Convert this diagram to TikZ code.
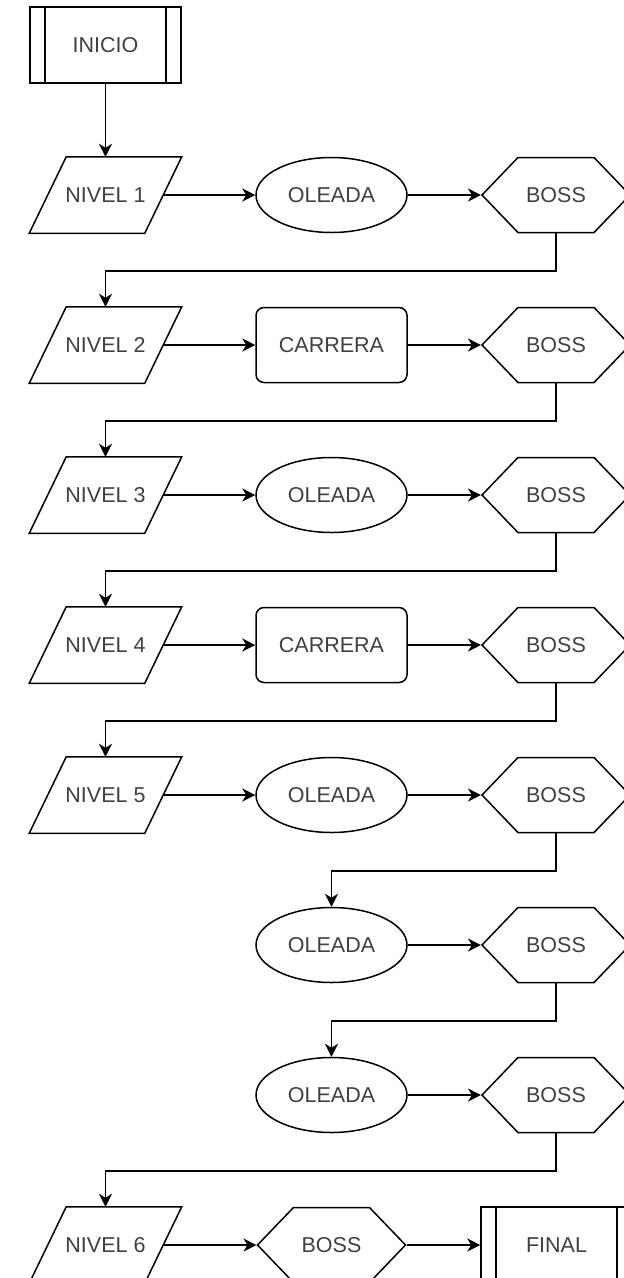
\documentclass[tikz,border=0pt]{standalone}
\usepackage{fontspec}
\setmainfont{Liberation Sans}
\usepackage{tikz}
\usetikzlibrary{arrows.meta,positioning,calc,shapes.geometric,shapes.symbols}
\definecolor{txt}{HTML}{404040}

\begin{document}
\begin{tikzpicture}[x=1pt, y=-1pt,
  base/.style={draw, line width=1.5pt, inner sep=1pt, text=txt, font=\fontsize{21.5}{24}\selectfont},
  lvl/.style={base, draw=none, minimum width=151, minimum height=75,
    append after command={\pgfextra{\draw[line width=1.5pt] ([xshift=37pt]\tikzlastnode.north west) -- (\tikzlastnode.north east)
      -- ([xshift=-37pt]\tikzlastnode.south east) -- (\tikzlastnode.south west) -- cycle;}}},
  wave/.style={base, ellipse, minimum width=151, minimum height=75},
  race/.style={base, rounded corners=8pt, minimum width=151, minimum height=75},
  boss/.style={base, signal, signal to=west and east, signal pointer angle=92.4, minimum width=148, minimum height=75},
  term/.style={base, minimum width=151, minimum height=76,
    path picture={\draw[line width=1.5pt] ([xshift=15pt]path picture bounding box.north west) -- ([xshift=15pt]path picture bounding box.south west);
                  \draw[line width=1.5pt] ([xshift=-15pt]path picture bounding box.north east) -- ([xshift=-15pt]path picture bounding box.south east);}},
  arr/.style={-{Stealth[length=13pt, width=13pt, inset=4pt]}, line width=1.5pt}]
  \useasboundingbox (0,0) rectangle (624,1278);
  \node[term] (inicio) at (105.5,45) {INICIO};
  % row 1
  \node[lvl] (n1) at (105.5,195) {NIVEL 1};
  \node[wave] (o1) at (331.5,195) {OLEADA};
  \node[boss] (b1) at (556,195) {BOSS};
  % row 2
  \node[lvl] (n2) at (105.5,345) {NIVEL 2};
  \node[race] (c2) at (331.5,345) {CARRERA};
  \node[boss] (b2) at (556,345) {BOSS};
  % row 3
  \node[lvl] (n3) at (105.5,495) {NIVEL 3};
  \node[wave] (o3) at (331.5,495) {OLEADA};
  \node[boss] (b3) at (556,495) {BOSS};
  % row 4
  \node[lvl] (n4) at (105.5,645) {NIVEL 4};
  \node[race] (c4) at (331.5,645) {CARRERA};
  \node[boss] (b4) at (556,645) {BOSS};
  % row 5
  \node[lvl] (n5) at (105.5,795) {NIVEL 5};
  \node[wave] (o5) at (331.5,795) {OLEADA};
  \node[boss] (b5) at (556,795) {BOSS};
  % rows 6 and 7
  \node[wave] (o6) at (331.5,945) {OLEADA};
  \node[boss] (b6) at (556,945) {BOSS};
  \node[wave] (o7) at (331.5,1095) {OLEADA};
  \node[boss] (b7) at (556,1095) {BOSS};
  % row 8
  \node[lvl] (n8) at (105.5,1245) {NIVEL 6};
  \node[boss] (b8) at (331.5,1245) {BOSS};
  \node[term] (final) at (556.5,1245) {FINAL};
  % connectors
  \draw[arr] (inicio.south) -- (inicio.south |- n1.north);
  \draw[arr] ([xshift=-18.5pt]n1.east) -- (o1.west);
  \draw[arr] (o1.east) -- (b1.west);
  \draw[arr] (b1.south) -- ++(0,37.5) -| (n2.north);
  \draw[arr] ([xshift=-18.5pt]n2.east) -- (c2.west);
  \draw[arr] (c2.east) -- (b2.west);
  \draw[arr] (b2.south) -- ++(0,37.5) -| (n3.north);
  \draw[arr] ([xshift=-18.5pt]n3.east) -- (o3.west);
  \draw[arr] (o3.east) -- (b3.west);
  \draw[arr] (b3.south) -- ++(0,37.5) -| (n4.north);
  \draw[arr] ([xshift=-18.5pt]n4.east) -- (c4.west);
  \draw[arr] (c4.east) -- (b4.west);
  \draw[arr] (b4.south) -- ++(0,37.5) -| (n5.north);
  \draw[arr] ([xshift=-18.5pt]n5.east) -- (o5.west);
  \draw[arr] (o5.east) -- (b5.west);
  \draw[arr] (b5.south) -- ++(0,37.5) -| (o6.north);
  \draw[arr] (o6.east) -- (b6.west);
  \draw[arr] (b6.south) -- ++(0,37.5) -| (o7.north);
  \draw[arr] (o7.east) -- (b7.west);
  \draw[arr] (b7.south) -- ++(0,37.5) -| (n8.north);
  \draw[arr] ([xshift=-18.5pt]n8.east) -- (b8.west);
  \draw[arr] (b8.east) -- (final.west);
\end{tikzpicture}
\end{document}
